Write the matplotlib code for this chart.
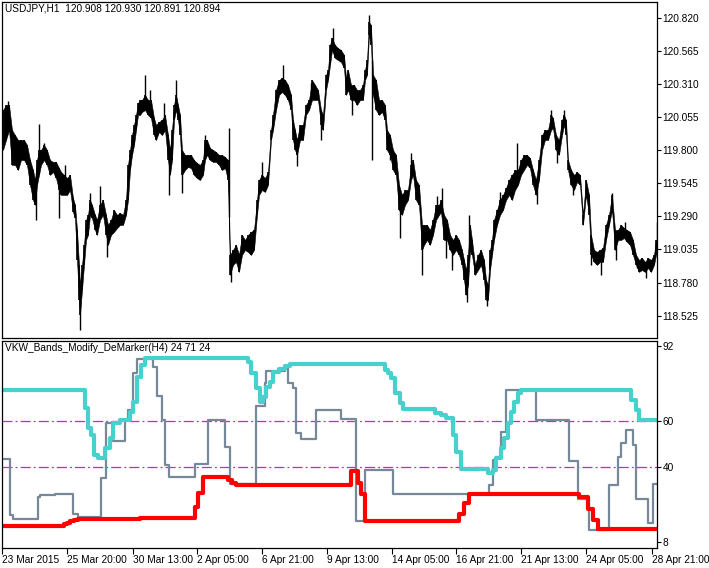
import numpy as np
import matplotlib
matplotlib.use("Agg")
import matplotlib.pyplot as plt

# ---- price data (H1 bars), x is bar position along the chart ----
bar_x = [3, 6, 9, 12, 15, 18, 21, 24, 27, 30, 33, 35, 37, 39, 41, 44, 47, 50, 53, 56,
         59, 61, 64, 67, 70, 73, 75, 77, 79, 80, 82, 84, 86, 88, 90, 92, 95, 97, 100, 103,
         106, 108, 111, 114, 117, 120, 123, 126, 128, 130, 132, 134, 136, 138, 140, 142, 145, 148, 151, 154,
         156, 159, 162, 165, 168, 170, 172, 174, 176, 178, 180, 182, 185, 188, 191, 194, 197, 200, 203, 205,
         207, 210, 213, 216, 219, 222, 225, 228, 230, 233, 236, 239, 242, 245, 248, 251, 254, 257, 259, 262,
         265, 268, 271, 273, 276, 279, 282, 285, 288, 291, 293, 295, 297, 300, 303, 306, 309, 312, 315, 318,
         321, 323, 326, 328, 330, 332, 335, 338, 341, 344, 346, 348, 351, 354, 357, 360, 363, 365, 367, 369,
         371, 373, 376, 379, 382, 385, 387, 390, 393, 396, 399, 402, 405, 408, 411, 413, 416, 419, 422, 424,
         427, 430, 433, 436, 439, 441, 444, 447, 450, 453, 456, 459, 462, 464, 466, 468, 470, 472, 475, 478,
         481, 484, 486, 488, 490, 492, 494, 497, 500, 503, 506, 509, 512, 515, 518, 521, 524, 527, 530, 533,
         536, 539, 542, 545, 548, 551, 553, 556, 559, 562, 564, 566, 568, 571, 574, 577, 580, 583, 586, 589,
         591, 594, 597, 600, 603, 606, 609, 612, 615, 618, 621, 624, 627, 630, 633, 636, 639, 642, 645, 648,
         651, 654, 656]
bar_hi = [120.109, 120.148, 120.148, 119.955, 119.916, 119.878, 119.878, 119.878, 119.840, 119.724,
          119.647, 119.570, 119.724, 119.801, 119.801, 119.840, 119.801, 119.724, 119.709, 119.709,
          119.662, 119.632, 119.609, 119.585, 119.609, 119.431, 119.378, 119.185, 118.916, 118.762,
          118.916, 119.070, 119.262, 119.301, 119.416, 119.378, 119.301, 119.262, 119.378, 119.416,
          119.301, 119.224, 119.262, 119.339, 119.301, 119.316, 119.301, 119.416, 119.686, 119.801,
          119.916, 119.994, 120.071, 120.163, 120.186, 120.186, 120.225, 120.186, 120.186, 120.047,
          119.994, 120.017, 120.032, 120.071, 119.916, 119.801, 119.955, 120.148, 120.225, 120.148,
          120.071, 119.801, 119.763, 119.763, 119.763, 119.724, 119.701, 119.686, 119.724, 119.878,
          119.878, 119.816, 119.801, 119.786, 119.763, 119.763, 119.747, 119.724, 118.993, 119.031,
          119.070, 118.993, 119.147, 119.108, 119.147, 119.170, 119.185, 119.416, 119.570, 119.609,
          119.585, 119.632, 119.955, 120.071, 120.263, 120.340, 120.355, 120.340, 120.302, 120.225,
          120.032, 119.955, 119.878, 119.994, 119.994, 120.148, 120.186, 120.340, 120.302, 120.263,
          120.109, 120.071, 120.379, 120.417, 120.610, 120.663, 120.610, 120.586, 120.571, 120.533,
          120.355, 120.417, 120.302, 120.302, 120.263, 120.263, 120.302, 120.417, 120.494, 120.787,
          120.764, 120.379, 120.340, 120.186, 120.186, 120.148, 119.955, 119.916, 119.801, 119.763,
          119.532, 119.455, 119.493, 119.493, 119.686, 119.724, 119.570, 119.532, 119.224, 119.224,
          119.224, 119.185, 119.262, 119.378, 119.378, 119.416, 119.301, 119.262, 119.147, 119.108,
          119.147, 119.108, 119.031, 118.954, 118.877, 118.993, 119.224, 119.108, 118.916, 118.993,
          119.031, 118.954, 118.800, 118.762, 119.031, 119.108, 119.262, 119.339, 119.416, 119.455,
          119.508, 119.570, 119.609, 119.647, 119.647, 119.724, 119.763, 119.763, 119.739, 119.647,
          119.570, 119.724, 119.916, 119.955, 119.955, 120.071, 120.047, 119.916, 119.878, 120.032,
          120.071, 120.032, 119.724, 119.647, 119.609, 119.632, 119.609, 119.301, 119.570, 119.455,
          119.147, 119.031, 119.016, 119.031, 119.046, 119.224, 119.301, 119.455, 119.185, 119.185,
          119.224, 119.200, 119.185, 119.170, 119.108, 118.993, 118.954, 118.969, 118.939, 118.969,
          118.954, 118.993, 119.108]
bar_lo = [119.801, 119.878, 119.955, 119.686, 119.686, 119.647, 119.724, 119.724, 119.686, 119.532,
          119.416, 119.378, 119.532, 119.609, 119.686, 119.724, 119.686, 119.609, 119.632, 119.585,
          119.493, 119.455, 119.455, 119.455, 119.493, 119.324, 119.277, 118.954, 118.646, 118.531,
          118.723, 118.916, 119.108, 119.147, 119.301, 119.277, 119.185, 119.147, 119.262, 119.301,
          119.147, 119.070, 119.147, 119.170, 119.200, 119.224, 119.224, 119.301, 119.416, 119.647,
          119.763, 119.840, 119.955, 120.071, 120.071, 120.094, 120.109, 120.071, 120.047, 119.916,
          119.878, 119.940, 119.916, 119.955, 119.724, 119.609, 119.724, 120.032, 120.109, 120.032,
          119.916, 119.609, 119.647, 119.670, 119.662, 119.609, 119.585, 119.570, 119.609, 119.724,
          119.763, 119.724, 119.709, 119.709, 119.686, 119.647, 119.662, 119.570, 118.839, 118.916,
          118.939, 118.862, 118.993, 119.031, 119.016, 118.993, 119.031, 119.301, 119.455, 119.493,
          119.478, 119.532, 119.878, 119.955, 120.109, 120.225, 120.248, 120.225, 120.186, 120.109,
          119.878, 119.801, 119.763, 119.878, 119.878, 120.071, 120.109, 120.186, 120.186, 120.186,
          119.994, 119.955, 120.263, 120.340, 120.456, 120.571, 120.509, 120.494, 120.479, 120.432,
          120.225, 120.263, 120.186, 120.186, 120.148, 120.186, 120.186, 120.340, 120.379, 120.687,
          120.610, 120.225, 120.109, 120.071, 120.094, 120.032, 119.801, 119.763, 119.647, 119.609,
          119.339, 119.301, 119.378, 119.416, 119.570, 119.609, 119.416, 119.378, 119.031, 119.070,
          119.108, 119.070, 119.147, 119.262, 119.301, 119.324, 119.108, 119.108, 119.031, 118.993,
          119.031, 118.993, 118.916, 118.800, 118.685, 118.762, 119.031, 118.993, 118.839, 118.877,
          118.916, 118.800, 118.646, 118.646, 118.877, 118.993, 119.108, 119.224, 119.301, 119.339,
          119.416, 119.455, 119.416, 119.493, 119.532, 119.609, 119.647, 119.686, 119.662, 119.532,
          119.455, 119.570, 119.801, 119.878, 119.878, 119.955, 119.970, 119.801, 119.763, 119.916,
          119.994, 119.916, 119.647, 119.532, 119.493, 119.555, 119.532, 119.224, 119.455, 119.301,
          118.993, 118.939, 118.916, 118.939, 118.939, 119.108, 119.224, 119.339, 119.031, 119.108,
          119.108, 119.123, 119.093, 119.070, 118.993, 118.916, 118.862, 118.877, 118.862, 118.892,
          118.862, 118.916, 118.993]

# single-bar extremes (wicks sticking out of the main body)
spike_x = [8, 36, 39, 44, 59, 65, 76, 80, 90, 100, 107, 145, 150, 164, 169, 176, 182, 205, 229, 231,
           262, 283, 297, 311, 321, 333, 352, 369, 372, 390, 400, 411, 422, 437, 442, 446, 452, 467, 469, 487,
           500, 517, 537, 551, 557, 564, 573, 591, 601, 612, 616, 625, 637, 646, 657]
spike_p = [120.178, 119.262, 120.001, 119.855, 119.277, 119.686, 119.185, 118.415, 119.470, 119.524,
           118.977, 120.379, 120.263, 120.163, 119.455, 120.340, 119.470, 119.916, 119.970, 118.785,
           119.709, 120.456, 119.678, 120.317, 119.878, 120.740, 120.071, 120.840, 119.724, 119.724,
           119.123, 119.778, 118.839, 119.447, 119.508, 118.969, 118.877, 118.631, 119.301, 118.600,
           119.478, 119.855, 119.385, 120.109, 119.701, 120.109, 119.455, 118.916, 118.839, 119.470,
           118.954, 119.247, 118.892, 118.815, 119.247]

price_ticks = [120.820, 120.565, 120.310, 120.055, 119.800, 119.545, 119.290, 119.035, 118.780, 118.525]

# ---- indicator (H4 steps): start position of each step and its level ----
up_x = [2, 85, 88, 91, 94, 98, 105, 110, 113, 120, 130, 133, 137, 141, 145, 248, 251, 256, 260, 263,
        266, 270, 273, 279, 285, 290, 385, 388, 391, 395, 400, 403, 435, 441, 446, 453, 456, 461, 488, 493,
        496, 501, 504, 508, 511, 514, 518, 521, 631, 636, 639, 657]
up_v = [73.1, 65.2, 56.7, 53.8, 45.3, 43.9, 48.2, 52.4, 58.8, 60.2, 63.8, 68.0, 78.8, 83.8, 86.6, 85.0,
        80.2, 73.8, 68.0, 70.0, 74.5, 76.6, 80.9, 82.0, 83.3, 84.0, 81.6, 80.2, 78.0, 71.7, 67.4, 64.8,
        63.4, 62.4, 61.0, 53.8, 46.7, 39.2, 37.5, 39.0, 43.9, 48.2, 52.4, 58.8, 63.8, 68.0, 71.7, 73.1,
        68.8, 64.5, 60.2, 60.2]

dn_x = [2, 64, 67, 70, 74, 78, 140, 195, 198, 203, 228, 232, 236, 351, 358, 361, 365, 459, 464, 469,
        579, 588, 593, 598, 657]
dn_v = [15.1, 15.6, 16.3, 16.9, 17.5, 17.9, 18.5, 23.2, 28.9, 35.8, 34.5, 33.3, 32.5, 38.5, 33.5, 28.6,
        17.2, 20.1, 24.6, 28.6, 27.5, 22.1, 17.5, 13.5, 13.5]

dem_x = [2, 10, 13, 38, 40, 55, 73, 78, 101, 106, 113, 125, 128, 133, 137, 153, 157, 162, 165, 169,
         195, 208, 225, 230, 256, 265, 266, 285, 288, 293, 296, 301, 316, 341, 356, 365, 393, 489, 493, 496,
         501, 506, 536, 569, 578, 589, 609, 618, 621, 626, 633, 636, 648, 653, 657]
dem_v = [43.6, 19.6, 17.9, 27.5, 28.2, 28.6, 20.1, 18.9, 35.3, 58.8, 51.4, 60.2, 64.5, 80.2, 86.2, 83.0,
         70.5, 60.2, 41.0, 35.8, 41.4, 60.2, 48.6, 32.8, 66.2, 75.9, 81.3, 83.0, 75.9, 74.1, 54.8, 52.3,
         64.5, 60.7, 17.2, 38.9, 28.6, 32.5, 43.2, 44.6, 55.3, 73.1, 60.2, 42.9, 26.4, 13.2, 32.5, 44.3,
         50.3, 56.0, 49.4, 26.5, 16.4, 32.9, 32.9]

ind_ticks = [92, 60, 40, 8]
levels = [60, 40]

date_pos = [2, 67, 133, 197, 262, 327, 392, 456, 521, 586, 652]
date_labels = ['23 Mar 2015', '25 Mar 20:00', '30 Mar 13:00', '2 Apr 05:00', '6 Apr 21:00',
               '9 Apr 13:00', '14 Apr 05:00', '16 Apr 21:00', '21 Apr 13:00', '24 Apr 05:00',
               '28 Apr 21:00']

plt.rcParams['font.family'] = ['Liberation Sans', 'DejaVu Sans']
FS = 7.3
W, H = 709, 568
fig = plt.figure(figsize=(W / 100, H / 100), dpi=100)
fig.patch.set_facecolor('white')

ax1 = fig.add_axes([2 / W, 1 - 338 / H, 655 / W, 336 / H])
ax2 = fig.add_axes([2 / W, 1 - 548 / H, 655 / W, 207 / H])

# price panel
bx = np.array(bar_x)
hi = np.array(bar_hi)
lo = np.array(bar_lo)
ax1.fill_between(bx, lo, hi, color='black', lw=0.4)
ax1.vlines(bx, lo, hi, color='black', lw=1.2)
mid = (hi + lo) / 2
ax1.vlines(spike_x, np.interp(spike_x, bx, mid), spike_p, color='black', lw=1.0)
ax1.set_xlim(2, 657)
ax1.set_ylim(118.353, 120.941)
ax1.set_yticks(price_ticks)
ax1.set_yticklabels([f'{p:.3f}' for p in price_ticks])
ax1.set_xticks([])
ax1.text(5, 120.941 - 0.012, 'USDJPY,H1  120.908 120.930 120.891 120.894',
         fontsize=FS, va='top', ha='left')

# indicator panel
for lv in levels:
    ax2.axhline(lv, color='#FF00FF', lw=0.9, dashes=(8, 2.5, 1.5, 2.5))
ax2.step(dem_x, dem_v, where='post', color='#778899', lw=1.6)
ax2.step(up_x, up_v, where='post', color='#48D1CC', lw=3.0)
ax2.step(dn_x, dn_v, where='post', color='#FF0000', lw=3.0)
ax2.set_xlim(2, 657)
ax2.set_ylim(5.55, 94.0)
ax2.set_yticks(ind_ticks)
ax2.set_xticks(date_pos)
ax2.set_xticklabels(date_labels)
for t in ax2.get_xticklabels():
    t.set_horizontalalignment('left')
ax2.text(5, 94.0 - 1.0, 'VKW_Bands_Modify_DeMarker(H4) 24 71 24',
         fontsize=FS, va='top', ha='left')

for ax in (ax1, ax2):
    ax.yaxis.tick_right()
    ax.tick_params(axis='y', direction='out', length=3, width=0.8, labelsize=FS, pad=1)
    ax.tick_params(axis='x', direction='out', length=4, width=0.8, labelsize=FS, pad=1)
    for s in ax.spines.values():
        s.set_linewidth(0.9)
        s.set_color('black')
    ax.set_facecolor('white')

fig.savefig('out.png', dpi=100, facecolor='white')
